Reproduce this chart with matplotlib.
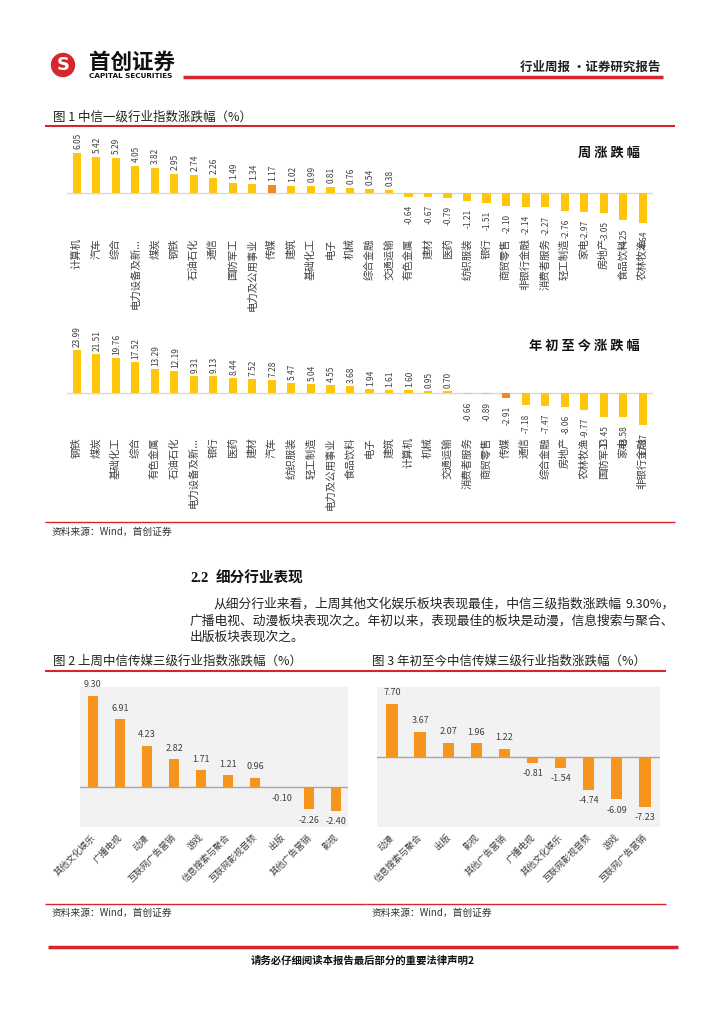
import matplotlib
matplotlib.use("Agg")
import matplotlib.pyplot as plt
from matplotlib.patches import Circle
import numpy as np

plt.rcParams['font.family'] = ['Noto Sans CJK SC', 'DejaVu Sans']

W, H = 724, 1024

# ---- data ----
weekNames = ["计算机", "汽车", "综合", "电力设备及新...", "煤炭", "钢铁", "石油石化", "通信",
             "国防军工", "电力及公用事业", "传媒", "建筑", "基础化工", "电子", "机械", "综合金融",
             "交通运输", "有色金属", "建材", "医药", "纺织服装", "银行", "商贸零售", "非银行金融",
             "消费者服务", "轻工制造", "家电", "房地产", "食品饮料", "农林牧渔"]
weekValues = [6.05, 5.42, 5.29, 4.05, 3.82, 2.95, 2.74, 2.26, 1.49, 1.34, 1.17, 1.02, 0.99, 0.81,
              0.76, 0.54, 0.38, -0.64, -0.67, -0.79, -1.21, -1.51, -2.10, -2.14, -2.27, -2.76,
              -2.97, -3.05, -4.25, -4.64]

ytdNames = ["钢铁", "煤炭", "基础化工", "综合", "有色金属", "石油石化", "电力设备及新...", "银行",
            "医药", "建材", "汽车", "纺织服装", "轻工制造", "电力及公用事业", "食品饮料", "电子",
            "建筑", "计算机", "机械", "交通运输", "消费者服务", "商贸零售", "传媒", "通信",
            "综合金融", "房地产", "农林牧渔", "国防军工", "家电", "非银行金融"]
ytdValues = [23.99, 21.51, 19.76, 17.52, 13.29, 12.19, 9.31, 9.13, 8.44, 7.52, 7.28, 5.47, 5.04,
             4.55, 3.68, 1.94, 1.61, 1.60, 0.95, 0.70, -0.66, -0.89, -2.91, -7.18, -7.47, -8.06,
             -9.77, -13.45, -13.58, -17.87]

mediaWeekNames = ["其他文化娱乐", "广播电视", "动漫", "互联网广告营销", "游戏", "信息搜索与聚合",
                  "互联网影视音频", "出版", "其他广告营销", "影视"]
mediaWeekValues = [9.30, 6.91, 4.23, 2.82, 1.71, 1.21, 0.96, -0.10, -2.26, -2.40]

mediaYtdNames = ["动漫", "信息搜索与聚合", "出版", "影视", "其他广告营销", "广播电视",
                 "其他文化娱乐", "互联网影视音频", "游戏", "互联网广告营销"]
mediaYtdValues = [7.70, 3.67, 2.07, 1.96, 1.22, -0.81, -1.54, -4.74, -6.09, -7.23]

highlight = "传媒"

YELLOW = "#FFC60B"
ORANGE = "#F28A22"
RED = "#D7262B"
TXT = "#404040"

fig = plt.figure(figsize=(W / 100, H / 100), dpi=100)

# page layer (pixel coords)
page = fig.add_axes([0, 0, 1, 1])
page.set_xlim(0, W)
page.set_ylim(H, 0)
page.axis("off")


def axes_px(left, top, right, bottom):
    return fig.add_axes([left / W, 1 - bottom / H, (right - left) / W, (bottom - top) / H])


def hline(y, x0, x1, lw=1.0, color=RED):
    page.plot([x0, x1], [y, y], color=color, lw=lw, solid_capstyle="butt")


# header
page.add_patch(Circle((63, 65), 11.5, color="#D7262B"))
page.text(63, 65.5, "S", color="white", fontsize=13, fontweight="bold", ha="center", va="center",
          family="DejaVu Sans")
page.text(89, 62, "首创证券", fontsize=15.5, fontweight="bold", ha="left", va="center", color="#111111")
page.text(89, 76, "CAPITAL SECURITIES", fontsize=5.2, fontweight="bold", ha="left", va="center",
          family="DejaVu Sans", color="#111111")
hline(76.5, 183, 663, lw=2.5)
page.text(660, 67, "行业周报 ·证券研究报告", fontsize=9, fontweight="bold", ha="right", va="center",
          color="#222222")

# figure 1 title
page.text(53, 117, "图 1 中信一级行业指数涨跌幅（%）", fontsize=9, ha="left", va="center", color="#222222")
hline(126, 45, 675, lw=1.5)


def industry_chart(top, bottom, y0, s, names, values, title, title_y, label_top, pos_gap, neg_gap):
    ax = axes_px(66.9, top, 652.5, bottom)
    x = np.arange(len(values))
    colors = [ORANGE if n == highlight else YELLOW for n in names]
    ax.bar(x, values, width=0.42, color=colors, zorder=2)
    ax.axhline(0, color="#D9D9D9", lw=1, zorder=1)
    ax.set_xlim(-0.5, len(values) - 0.5)
    ax.set_ylim(-(bottom - y0) / s, (y0 - top) / s)
    ax.axis("off")
    for i, (n, v) in enumerate(zip(names, values)):
        if v >= 0:
            ax.text(i + 0.05, v + pos_gap / s, f"{v:.2f}", rotation=90, ha="center", va="bottom",
                    fontsize=6, color=TXT)
        else:
            ax.text(i + 0.05, v - neg_gap / s, f"{v:.2f}", rotation=90, ha="center", va="top",
                    fontsize=6, color=TXT)
        ax.text(i, (y0 - label_top) / s, n, rotation=90, ha="center", va="top", fontsize=7.5,
                color=TXT)
    page.text(640, title_y, title, fontsize=9.5, fontweight="bold", ha="right", va="center",
              color="#111111")
    return ax


industry_chart(135, 330, 192.7, 6.5, weekNames, weekValues, "周 涨 跌 幅", 153, 238, 4, 8)
industry_chart(330, 520, 392.7, 1.78, ytdNames, ytdValues, "年 初 至 今 涨 跌 幅", 346, 437, 3, 8)

hline(522, 45, 675, lw=1)
page.text(52, 532, "资料来源：Wind，首创证券", fontsize=7, style="italic", ha="left", va="center",
          color="#333333")

# section text
page.text(190, 578, "2.2", fontsize=10.5, fontweight="bold", ha="left", va="center",
          family="Liberation Serif", color="#111111")
page.text(216, 578, "细分行业表现", fontsize=10.5, fontweight="bold", ha="left", va="center",
          color="#111111")
page.text(213, 604, "从细分行业来看，上周其他文化娱乐板块表现最佳，中信三级指数涨跌幅",
          fontsize=9.2, ha="left", va="center", color="#222222")
page.text(675, 604, "9.30%，", fontsize=9.2, ha="right", va="center", color="#222222")
page.text(190, 621, "广播电视、动漫板块表现次之。年初以来，表现最佳的板块是动漫，信息搜索与聚合、",
          fontsize=9.2, ha="left", va="center", color="#222222")
page.text(190, 637, "出版板块表现次之。", fontsize=9.2, ha="left", va="center", color="#222222")

# figure 2 / 3 titles
page.text(53, 661, "图 2 上周中信传媒三级行业指数涨跌幅（%）", fontsize=9, ha="left", va="center",
          color="#222222")
hline(671, 45, 366, lw=1.5)
page.text(372, 661, "图 3 年初至今中信传媒三级行业指数涨跌幅（%）", fontsize=9, ha="left",
          va="center", color="#222222")
hline(671, 366, 666, lw=1.5)


def media_chart(left, right, x0, dx, y0, s, names, values):
    top, bottom = 687, 827
    ax = axes_px(left, top, right, bottom)
    ax.set_facecolor("#F2F2F2")
    x = np.arange(len(values))
    ax.bar(x, values, width=0.4, color="#F7941D", zorder=2)
    ax.axhline(0, color="#A6A6A6", lw=1, zorder=1)
    ax.set_xlim((left - x0) / dx, (right - x0) / dx)
    ax.set_ylim(-(bottom - y0) / s, (y0 - top) / s)
    for sp in ax.spines.values():
        sp.set_visible(False)
    ax.set_xticks([])
    ax.set_yticks([])
    for i, (n, v) in enumerate(zip(names, values)):
        off = 11 / s
        ax.text(i, v + off if v >= 0 else v - off, f"{v:.2f}", ha="center", va="center",
                fontsize=6.5, color=TXT, clip_on=False)
        ax.text(i + 0.15, (y0 - 833) / s, n, rotation=45, ha="right", va="top", fontsize=6.5,
                color=TXT)
    return ax


media_chart(80, 348, 93, 27, 787, 9.8, mediaWeekNames, mediaWeekValues)
media_chart(377, 660, 392, 28.1, 757, 6.9, mediaYtdNames, mediaYtdValues)

hline(904, 45, 366, lw=1)
hline(904, 366, 666, lw=1)
page.text(52, 913, "资料来源：Wind，首创证券", fontsize=7, style="italic", ha="left", va="center",
          color="#333333")
page.text(372, 913, "资料来源：Wind，首创证券", fontsize=7, style="italic", ha="left", va="center",
          color="#333333")

# footer
hline(947, 48, 678, lw=2.5)
page.text(363, 961, "请务必仔细阅读本报告最后部分的重要法律声明2", fontsize=7.5, fontweight="bold",
          ha="center", va="center", color="#111111")

fig.savefig("out.png", dpi=100)
